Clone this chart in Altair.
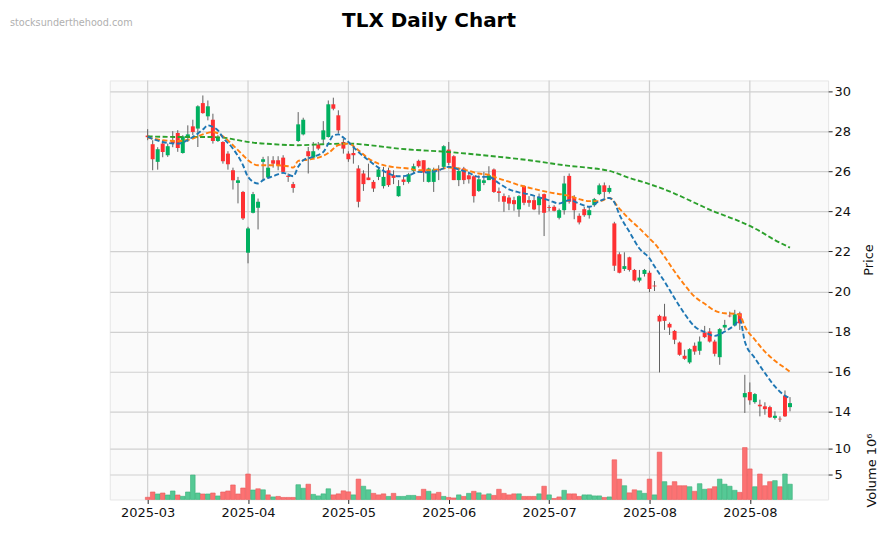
import altair as alt
import pandas as pd

# ---------------- data ----------------
opens = [27.78, 27.35, 26.47, 27.38, 26.80, 27.50, 27.91, 26.91, 27.71, 28.24,
         28.13, 29.40, 28.74, 28.57, 27.51, 27.46, 26.88, 26.05, 25.42, 24.97,
         21.94, 23.93, 24.18, 26.47, 25.69, 26.55, 26.55, 26.68, 25.78, 25.36,
         27.51, 27.84, 27.00, 26.68, 27.33, 27.58, 27.71, 29.34, 28.79, 27.46,
         26.88, 26.91, 26.14, 25.89, 25.69, 25.47, 25.72, 25.26, 26.05, 25.80,
         24.76, 25.59, 25.47, 26.02, 26.52, 26.55, 25.47, 25.47, 26.10, 26.22,
         27.08, 26.75, 25.56, 26.14, 25.80, 25.75, 25.02, 25.42, 25.56, 26.09,
         25.00, 24.76, 24.69, 24.56, 24.10, 25.26, 24.56, 24.56, 24.31, 24.86,
         24.22, 24.23, 23.68, 24.06, 25.77, 24.72, 23.78, 24.11, 23.81, 24.31,
         24.86, 25.30, 24.97, 23.40, 21.86, 21.13, 21.71, 21.08, 20.55, 20.88,
         20.94, 20.30, 18.79, 18.76, 18.39, 18.04, 17.46, 16.80, 16.47, 17.30,
         17.05, 17.96, 18.01, 17.51, 16.73, 18.21, 18.80, 18.31, 18.92, 14.73,
         14.99, 14.49, 14.36, 14.28, 14.24, 13.70, 13.66, 14.81, 14.24]
highs = [28.10, 27.55, 27.20, 27.55, 27.38, 28.00, 28.05, 27.80, 28.29, 28.57,
         29.29, 29.78, 29.53, 28.87, 27.80, 27.50, 27.00, 26.18, 25.72, 25.02,
         23.23, 24.97, 24.64, 26.72, 26.75, 26.75, 26.75, 26.80, 25.89, 25.47,
         28.95, 28.67, 27.21, 27.46, 27.46, 28.50, 29.53, 29.67, 29.04, 27.63,
         27.00, 27.30, 26.30, 26.05, 26.38, 25.56, 26.18, 26.22, 26.18, 26.05,
         25.56, 25.72, 25.92, 26.38, 26.58, 26.55, 26.18, 26.18, 26.30, 27.30,
         27.46, 26.80, 26.18, 26.22, 25.97, 25.80, 25.80, 25.97, 26.25, 26.14,
         25.19, 24.89, 24.81, 24.73, 24.81, 25.30, 24.76, 24.73, 24.89, 24.89,
         24.31, 24.31, 24.14, 25.77, 25.89, 24.81, 23.90, 24.23, 24.23, 24.67,
         25.39, 25.44, 25.30, 23.48, 21.96, 21.96, 21.74, 21.13, 21.08, 21.13,
         21.04, 20.53, 18.85, 19.39, 18.46, 18.09, 17.51, 17.10, 17.18, 17.46,
         17.76, 18.29, 18.18, 17.60, 18.18, 18.59, 19.00, 19.09, 19.00, 15.85,
         15.47, 14.94, 14.61, 14.48, 14.31, 14.03, 13.78, 15.07, 14.74]
lows = [27.55, 26.05, 26.08, 26.70, 26.72, 27.20, 26.97, 26.88, 27.46, 27.80,
        27.21, 28.87, 28.54, 27.38, 27.46, 26.38, 26.08, 25.09, 24.40, 23.57,
        21.41, 23.90, 23.10, 25.55, 25.64, 26.18, 26.05, 25.89, 25.47, 24.93,
        27.46, 27.79, 25.89, 26.63, 27.05, 27.38, 27.68, 29.04, 27.88, 26.88,
        26.47, 26.38, 24.20, 25.02, 25.56, 24.97, 25.56, 25.14, 25.22, 25.36,
        24.73, 25.31, 25.39, 25.89, 26.18, 25.47, 25.44, 24.97, 25.56, 26.14,
        26.30, 25.56, 25.26, 25.36, 25.39, 24.44, 24.97, 25.31, 25.56, 24.92,
        24.48, 23.98, 24.06, 24.03, 23.73, 24.31, 24.23, 24.06, 23.84, 22.77,
        24.00, 24.00, 23.60, 23.84, 24.39, 23.61, 23.35, 23.73, 23.64, 24.23,
        24.81, 24.67, 24.89, 21.03, 20.91, 21.03, 21.00, 20.50, 20.46, 20.75,
        19.97, 20.03, 15.97, 18.09, 17.84, 17.38, 16.80, 16.60, 16.40, 16.85,
        16.85, 17.68, 17.46, 16.77, 16.35, 18.09, 18.72, 18.26, 18.09, 13.95,
        14.36, 14.41, 13.78, 13.86, 13.70, 13.62, 13.50, 13.75, 14.03]
closes = [27.70, 26.60, 27.10, 26.96, 27.25, 27.40, 27.16, 27.74, 27.84, 27.96,
          29.24, 28.90, 29.24, 27.51, 27.71, 26.50, 26.35, 25.55, 25.55, 23.65,
          23.15, 24.86, 24.48, 26.60, 26.18, 26.38, 26.30, 25.97, 25.72, 25.17,
          28.34, 28.57, 26.75, 27.00, 27.13, 28.04, 29.34, 29.12, 28.04, 27.13,
          26.60, 26.80, 24.48, 25.36, 25.56, 25.14, 26.09, 25.72, 25.31, 25.67,
          25.26, 25.47, 25.85, 26.25, 26.25, 25.94, 26.14, 26.09, 26.05, 27.25,
          26.42, 25.56, 26.02, 25.56, 25.60, 24.76, 25.60, 25.55, 25.80, 24.97,
          24.92, 24.48, 24.39, 24.36, 24.76, 24.43, 24.43, 24.10, 24.72, 23.93,
          24.18, 24.03, 24.06, 25.39, 24.48, 24.06, 23.45, 23.81, 24.06, 24.61,
          25.30, 24.97, 25.17, 21.29, 20.94, 21.27, 21.08, 20.55, 20.70, 21.08,
          20.13, 20.26, 18.51, 18.54, 18.21, 17.60, 16.85, 16.65, 17.13, 17.01,
          17.51, 17.73, 17.51, 16.90, 18.13, 18.34, 18.77, 18.87, 18.42, 14.94,
          14.58, 14.89, 14.28, 14.14, 13.73, 13.81, 13.63, 13.78, 14.44]
# volume in millions
volumes = [0.43, 1.47, 1.08, 1.27, 0.88, 1.67, 0.88, 0.62, 1.47, 4.80,
           1.27, 1.08, 1.08, 1.27, 0.69, 1.47, 1.67, 2.85, 1.08, 2.25,
           5.00, 1.86, 2.10, 1.90, 0.90, 0.50, 0.60, 0.40, 0.40, 0.40,
           2.90, 2.20, 3.00, 1.00, 0.70, 1.10, 2.10, 0.90, 1.10, 1.70,
           1.50, 0.90, 4.00, 2.60, 1.90, 1.20, 0.90, 1.10, 0.60, 1.20,
           0.60, 0.60, 0.80, 0.80, 0.60, 2.00, 1.60, 1.10, 1.40, 0.60,
           0.40, 0.30, 0.90, 0.60, 1.20, 1.60, 1.30, 0.90, 1.10, 0.80,
           2.00, 1.20, 0.90, 1.10, 1.10, 0.60, 0.60, 0.60, 1.10, 2.60,
           0.90, 0.20, 0.50, 1.80, 1.10, 1.10, 0.60, 0.90, 0.90, 0.70,
           0.70, 0.40, 0.50, 7.80, 4.00, 2.70, 1.30, 1.90, 1.70, 1.20,
           4.00, 0.90, 9.30, 3.50, 2.70, 3.50, 2.70, 2.70, 2.50, 1.60,
           3.10, 2.00, 2.10, 2.50, 4.00, 3.00, 2.60, 1.80, 1.40, 10.20,
           6.00, 2.50, 5.00, 2.70, 3.50, 3.70, 2.50, 5.00, 3.00]
# volume bar colour as seen (1 = green, 0 = red)
vol_up = [0, 0, 1, 0, 1, 1, 0, 1, 1, 1,
          1, 0, 1, 0, 1, 0, 0, 0, 0, 0,
          0, 1, 0, 1, 0, 1, 0, 0, 0, 0,
          1, 1, 0, 1, 1, 1, 1, 0, 0, 0,
          0, 1, 0, 1, 1, 0, 0, 0, 1, 0,
          1, 1, 1, 1, 0, 0, 1, 0, 0, 1,
          0, 0, 1, 0, 1, 0, 1, 0, 1, 0,
          0, 0, 0, 0, 1, 0, 0, 0, 1, 0,
          1, 0, 0, 1, 0, 0, 0, 1, 1, 1,
          1, 0, 1, 0, 0, 1, 0, 0, 1, 1,
          0, 1, 0, 1, 0, 0, 0, 0, 1, 0,
          1, 1, 0, 0, 1, 1, 1, 1, 0, 0,
          0, 1, 0, 0, 0, 1, 0, 1, 1]

# moving averages, sampled (bar index, value)
ma_short_idx = [0, 3, 6, 9, 11, 12, 13, 14, 15, 17, 19, 20, 22, 23, 25, 27, 29, 30, 31, 33,
                35, 36, 37, 38, 39, 40, 42, 44, 46, 48, 50, 52, 54, 56, 58, 60, 62, 64, 66, 68,
                70, 72, 74, 76, 78, 80, 82, 84, 86, 88, 90, 92, 93, 94, 96, 98, 100, 101, 103, 105,
                107, 109, 111, 113, 115, 117, 118, 119, 121, 123, 125, 127, 128]
ma_short = [27.71, 27.46, 27.38, 27.71, 28.08, 28.29, 28.21, 28.04, 27.68, 27.13, 26.30, 25.72, 25.39,
            25.56, 25.75, 25.92, 25.75, 26.22, 26.55, 26.72, 26.96, 27.38, 27.79, 27.84, 27.68, 27.46,
            26.96, 26.55, 26.18, 25.89, 25.75, 25.80, 25.97, 25.94, 26.05, 26.22, 26.09, 25.92, 25.72,
            25.72, 25.40, 25.10, 24.95, 24.85, 24.70, 24.55, 24.39, 24.56, 24.39, 24.23, 24.51, 24.67,
            24.45, 23.85, 22.98, 22.15, 21.66, 21.26, 20.50, 19.67, 18.89, 18.26, 17.98, 17.79, 18.01,
            18.34, 18.59, 17.51, 16.68, 15.94, 15.27, 14.81, 14.69]
ma_mid_idx = [0, 3, 6, 9, 11, 13, 15, 17, 19, 20, 22, 25, 28, 29, 30, 32, 34, 36, 38, 40,
              42, 44, 46, 48, 50, 52, 54, 56, 58, 60, 62, 64, 66, 68, 70, 72, 74, 76, 78, 80,
              84, 86, 88, 90, 92, 94, 96, 98, 100, 101, 103, 105, 107, 109, 111, 113, 115, 117, 118, 119,
              121, 123, 125, 127, 128]
ma_mid = [27.68, 27.55, 27.51, 27.63, 27.84, 27.96, 27.74, 27.30, 26.80, 26.55, 26.30, 26.30, 26.25,
          26.18, 26.52, 26.58, 26.68, 26.91, 27.30, 27.38, 27.05, 26.63, 26.38, 26.25, 26.18, 26.14,
          26.05, 26.05, 26.09, 26.18, 26.14, 26.02, 25.89, 25.82, 25.64, 25.48, 25.31, 25.18, 25.06,
          24.95, 24.77, 24.61, 24.51, 24.51, 24.67, 24.14, 23.61, 23.15, 22.65, 22.40, 21.74, 21.00,
          20.33, 19.75, 19.39, 19.05, 18.92, 18.89, 18.84, 18.26, 17.60, 17.01, 16.55, 16.19, 16.00]
ma_long_idx = [0, 6, 12, 15, 18, 21, 25, 30, 35, 40, 45, 50, 60, 70, 76, 84, 88, 92, 96, 100,
               105, 109, 113, 117, 121, 125, 128]
ma_long = [27.74, 27.71, 27.71, 27.68, 27.55, 27.43, 27.35, 27.30, 27.35, 27.38, 27.28, 27.13, 26.96,
           26.72, 26.55, 26.27, 26.17, 26.02, 25.67, 25.36, 24.89, 24.43, 23.98, 23.60, 23.15, 22.57,
           22.19]

tick_pos = [0, 20, 40, 60, 80, 100, 120]
tick_labels = ["2025-03", "2025-04", "2025-05", "2025-06", "2025-07", "2025-08", "2025-08"]
price_ticks = [14, 16, 18, 20, 22, 24, 26, 28, 30]
volume_ticks = [5, 10]

title_text = "TLX Daily Chart"
watermark = "stocksunderthehood.com"

# ---------------- chart ----------------
UP, DOWN = "#00b060", "#fe3032"
VUP, VDOWN = "#4dc790", "#fd6b6c"
FONT = "DejaVu Sans"
GRID = "#d0d0d0"
PLOT_H = 420

n = len(opens)
df = pd.DataFrame({
    "i": list(range(n)), "open": opens, "high": highs, "low": lows, "close": closes,
    "volume": volumes,
})
df["dir"] = ["up" if c >= o else "down" for o, c in zip(opens, closes)]
df["vdir"] = ["up" if v else "down" for v in vol_up]

label_expr = "[" + ",".join("'%s'" % t for t in tick_labels) + "][round(datum.value / 20)]"
x_scale = alt.Scale(domain=[-7.55, 135.6], nice=False, zero=False, padding=0)
x_axis = alt.Axis(values=tick_pos, labelExpr=label_expr, title=None, grid=False,
                  domain=False, tickColor="#222222", tickSize=4, labelPadding=3,
                  labelFontSize=13, labelFont=FONT, labelColor="#111111")
x_enc = alt.X("i:Q", scale=x_scale, axis=x_axis)

price_scale = alt.Scale(domain=[12.67, 30.53], range=[359, 0], nice=False, zero=False)
price_axis = alt.Axis(orient="right", values=price_ticks, title="Price", grid=True,
                      gridColor=GRID, gridWidth=1.2, domain=False, tickColor="#222222",
                      tickSize=4, labelFontSize=13, labelFont=FONT, labelColor="#111111",
                      titleFontSize=13, titleFont=FONT, titleFontWeight="normal",
                      titleColor="#111111", titleAngle=270, titleX=40, titleY=179.5,
                      titleAlign="center", titleBaseline="middle")

color_scale = alt.Scale(domain=["up", "down"], range=[UP, DOWN])

# vertical grid lines at the date ticks, full height of both panels
vgrid = alt.Chart(pd.DataFrame({"i": tick_pos})).mark_rule(
    color=GRID, strokeWidth=1.2).encode(
    x=x_enc, y=alt.value(0), y2=alt.value(PLOT_H))

wicks = alt.Chart(df).mark_rule(color="#606060", strokeWidth=1).encode(
    x=x_enc,
    y=alt.Y("low:Q", scale=price_scale, axis=price_axis),
    y2="high:Q",
)
bodies = alt.Chart(df).mark_bar(size=4).encode(
    x=x_enc,
    y=alt.Y("open:Q", scale=price_scale, axis=price_axis),
    y2="close:Q",
    color=alt.Color("dir:N", scale=color_scale, legend=None),
)


def ma_layer(ix, vals, colour):
    d = pd.DataFrame({"i": ix, "ma": vals})
    return alt.Chart(d).mark_line(strokeWidth=1.9, strokeDash=[5, 2.5], color=colour,
                                  interpolate="monotone").encode(
        x=x_enc, y=alt.Y("ma:Q", scale=price_scale, axis=price_axis))


ma_long_l = ma_layer(ma_long_idx, ma_long, "#2ca02c")
ma_mid_l = ma_layer(ma_mid_idx, ma_mid, "#ff7f0e")
ma_short_l = ma_layer(ma_short_idx, ma_short, "#1f77b4")

one = pd.DataFrame({"a": [0]})
title_mark = alt.Chart(one).mark_text(text=title_text, font=FONT, fontSize=20,
                                      fontWeight="bold", align="center",
                                      baseline="top", color="#000000").encode(
    x=alt.value(320), y=alt.value(-70))
wm_mark = alt.Chart(one).mark_text(text=watermark, font=FONT, fontSize=9.7,
                                   align="left", baseline="top",
                                   color="#b0b0b0").encode(
    x=alt.value(-100), y=alt.value(-63))

price = alt.layer(vgrid, wicks, bodies, ma_long_l, ma_mid_l, ma_short_l, title_mark, wm_mark)

vol = alt.Chart(df).mark_bar(size=4.6, opacity=0.95, strokeWidth=0.6).encode(
    x=x_enc,
    y=alt.Y("volume:Q",
            scale=alt.Scale(domain=[0, 11.57], range=[420, 361], nice=False, zero=True),
            axis=alt.Axis(orient="right", values=volume_ticks, title="Volume  10⁶", grid=True,
                          gridColor=GRID, gridWidth=1.2, domain=False,
                          tickColor="#222222", tickSize=4, labelFontSize=13, labelFont=FONT,
                          labelColor="#111111", titleFontSize=13, titleFont=FONT,
                          titleFontWeight="normal", titleColor="#111111",
                          titleAngle=270, titleX=43, titleY=390.5,
                          titleAlign="center", titleBaseline="middle")),
    color=alt.Color("vdir:N", scale=alt.Scale(domain=["up", "down"], range=[VUP, VDOWN]),
                    legend=None),
    stroke=alt.Stroke("vdir:N", scale=alt.Scale(domain=["up", "down"],
                                                range=["#2fae74", "#e85050"]),
                      legend=None),
)

chart = alt.layer(price, vol).resolve_scale(
    y="independent", color="independent", stroke="independent"
).properties(
    width=720, height=PLOT_H,
    padding={"left": 2, "top": 2, "right": 5, "bottom": 5},
).configure_view(fill="#fafafa", stroke="#e6e6e6")

chart.save("out.html", embed_options={"renderer": "svg", "actions": False})
